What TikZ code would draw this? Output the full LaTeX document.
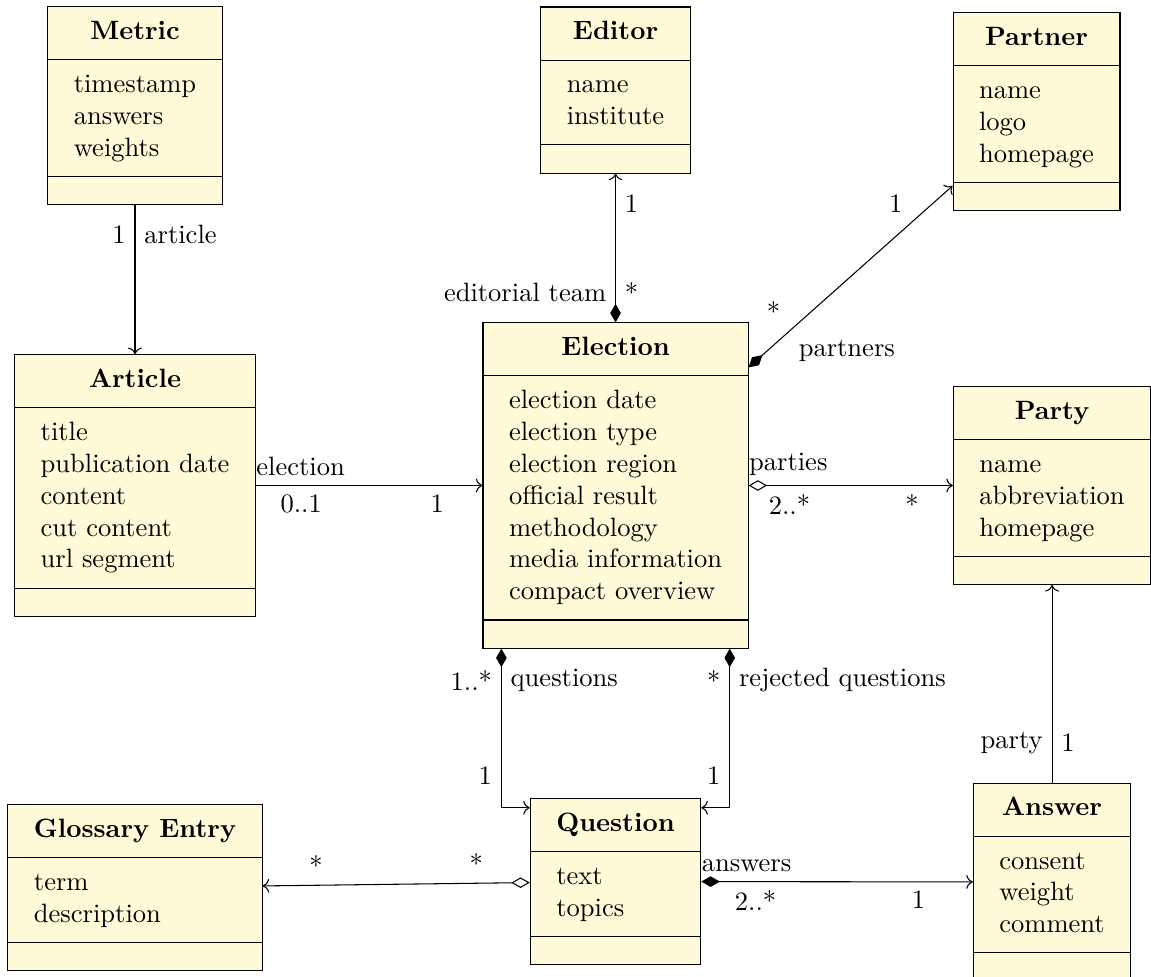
\documentclass[tikz,border=0pt]{standalone}
\usepackage{amsmath}
\usepackage{tikz}
\usetikzlibrary{shapes.multipart,arrows.meta}

\definecolor{classfill}{RGB}{255,250,215}
\newcommand{\attrs}[1]{\begin{tabular}{@{}l@{}}#1\end{tabular}}

\begin{document}
\begin{tikzpicture}[draw=black!100]
	\def \colleft{1.789cm}
	\def \colmid{8.156cm}
	\def \colright{13.94cm}
	\def \colpartner{13.734cm}
	\def \rowmid{-6.433cm}

	\tikzstyle{class}=[rectangle split,rectangle split parts=3,rectangle split part align={center,left,left},draw,fill=classfill,inner xsep=9.8pt,inner ysep=3.8pt]
	\tikzstyle{assoc}=[->]
	\tikzstyle{comp}=[{Diamond[length=7pt,width=4pt]}->]
	\tikzstyle{aggr}=[{Diamond[open,length=7pt,width=4pt]}->]
	\tikzstyle{role}=[inner xsep=0pt]

	\useasboundingbox (0,0) rectangle (15.251,-12.945);

	% classes
	\node[class] (metric) at (\colleft,-1.398cm)
		{\textbf{Metric}\strut
		\nodepart{second}\attrs{timestamp\\answers\\weights}
		\nodepart{third}\rule{0pt}{2.6pt}};
	\node[class] (editor) at (\colmid,-1.193cm)
		{\textbf{Editor}\strut
		\nodepart{second}\attrs{name\\institute}
		\nodepart{third}\rule{0pt}{2.6pt}};
	\node[class] (partner) at (\colpartner,-1.477cm)
		{\textbf{Partner}\strut
		\nodepart{second}\attrs{name\\logo\\homepage}
		\nodepart{third}\rule{0pt}{2.6pt}};

	\node[class] (article) at (\colleft,\rowmid)
		{\textbf{Article}\strut
		\nodepart{second}\attrs{title\\publication date\\content\\cut content\\url segment}
		\nodepart{third}\rule{0pt}{2.6pt}};
	\node[class] (election) at (\colmid,\rowmid)
		{\textbf{Election}\strut
		\nodepart{second}\attrs{election date\\election type\\election region\\official result\\methodology\\media information\\compact overview}
		\nodepart{third}\rule{0pt}{2.6pt}};
	\node[class] (party) at (\colright,\rowmid)
		{\textbf{Party}\strut
		\nodepart{second}\attrs{name\\abbreviation\\homepage}
		\nodepart{third}\rule{0pt}{2.6pt}};

	\node[class] (glossary) at (\colleft,-11.760cm)
		{\textbf{Glossary Entry}\strut
		\nodepart{second}\attrs{term\\description}
		\nodepart{third}\rule{0pt}{2.6pt}};
	\node[class] (question) at (\colmid,-11.680cm)
		{\textbf{Question}\strut
		\nodepart{second}\attrs{text\\topics}
		\nodepart{third}\rule{0pt}{2.6pt}};
	\node[class] (answer) at (\colright,-11.687cm)
		{\textbf{Answer}\strut
		\nodepart{second}\attrs{consent\\weight\\comment}
		\nodepart{third}\rule{0pt}{2.6pt}};

	% associations
	\draw[assoc] (metric) -- node[pos=0.2,left] (met-m) {1} node[pos=0.2,right] (met-r) {article} (article);
	\draw[comp] (election) -- node[pos=0.2,left] (ed-r) {editorial team} node[pos=0.2,right] (ed-m1) {*} node[pos=0.8,right] (ed-m2) {1} (editor);
	\draw[comp] (election) -- node[pos=0.2,above left] (pa-m1) {*} node[pos=0.2,below right] (pa-r) {partners} node[pos=0.8,above left] (pa-m2) {1} (partner);
	\draw[assoc] (article) -- node[pos=0,above right,role] (ar-r) {election} node[pos=0.2,below] (ar-m1) {0..1} node[pos=0.8,below] (ar-m2) {1} (election);
	\draw[aggr] (election) -- node[pos=0,above right,role] (py-r) {parties} node[pos=0.2,below] (py-m1) {2..*} node[pos=0.8,below] (py-m2) {*} (party);
	\draw[comp] ([xshift=0.25cm]election.south west) |- node[pos=0.1,left] (q-m1) {1..*} node[pos=0.1,right] (q-r) {questions} node[pos=0.4,left] (q-m2) {1} ([yshift=-0.13cm]question.north west);
	\draw[comp] ([xshift=-0.25cm]election.south east) |- node[pos=0.1,left] (rq-m1) {*} node[pos=0.1,right] (rq-r) {rejected questions} node[pos=0.4,left] (rq-m2) {1} ([yshift=-0.13cm]question.north east);
	\draw[aggr] (question) -- node[pos=0.2,above] (gl-m1) {*} node[pos=0.8,above] (gl-m2) {*} (glossary);
	\draw[comp] (question) -- node[pos=0,above right,role] (an-r) {answers} node[pos=0.2,below] (an-m1) {2..*} node[pos=0.8,below] (an-m2) {1} (answer);
	\draw[assoc] (answer) -- node[pos=0.2,left] (ap-r) {party} node[pos=0.2,right] (ap-m) {1} (party);
\end{tikzpicture}
\end{document}
